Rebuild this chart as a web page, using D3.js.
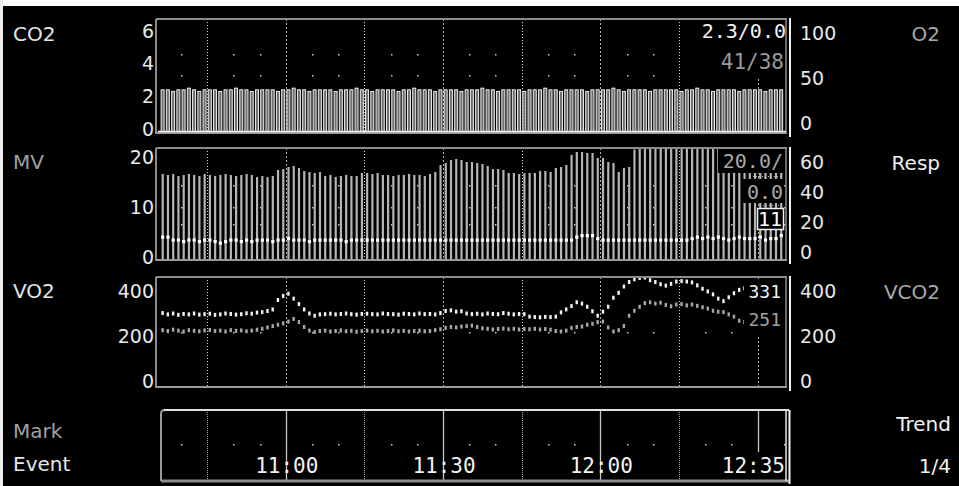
<!DOCTYPE html>
<html>
<head>
<meta charset="utf-8">
<script src="https://cdn.jsdelivr.net/npm/d3@7"></script>
<style>
  html, body { margin: 0; background: #000; }
  svg { display: block; }
</style>
</head>
<body>
<svg id="chart" width="959" height="486"></svg>
<script>
// one value per minute, 10:36 .. 12:35
const co2Values = [
  2.4,2.4,2.3,2.4,2.4,2.5,2.4,2.3,2.4,2.4, 2.4,2.3,2.4,2.4,2.5,2.4,2.4,2.3,2.4,2.4,
  2.4,2.4,2.3,2.4,2.4,2.5,2.4,2.4,2.3,2.4, 2.4,2.4,2.4,2.3,2.4,2.4,2.4,2.5,2.4,2.4,
  2.3,2.4,2.4,2.4,2.4,2.3,2.4,2.4,2.5,2.4, 2.4,2.4,2.3,2.4,2.4,2.4,2.4,2.3,2.4,2.4,
  2.4,2.5,2.4,2.4,2.3,2.4,2.4,2.4,2.4,2.3, 2.4,2.4,2.4,2.5,2.4,2.4,2.3,2.4,2.4,2.4,
  2.4,2.3,2.4,2.4,2.4,2.4,2.5,2.4,2.3,2.4, 2.4,2.4,2.4,2.3,2.4,2.4,2.4,2.4,2.4,2.3,
  2.4,2.4,2.5,2.4,2.4,2.3,2.4,2.4,2.4,2.4, 2.3,2.4,2.4,2.4,2.4,2.3,2.4,2.4,2.4
];
const mvValues = [
  16.6,16.4,16.6,16.2,16.4,16.6,16.4,16.2,16.6,16.4,16.2,16.4,16.6,16.4,16.2,16.4,16.6,16.4,
  16.0,16.2,16.0,16.2, 17.4,17.6, 18.0,18.2,17.8, 17.2,17.0,16.8,17.0,
  16.2,16.4,16.0,16.2,16.4,16.2,16.2, 16.8,16.8,16.6,16.8,
  16.4,16.4,16.2,16.4,16.4,16.6,16.4,16.4,16.2,16.6,
  17.0,18.4,18.8,19.4,19.6,19.4,19.0,19.0,18.8,18.6,18.2,17.6,17.6,17.4,
  16.8,16.8,16.6,16.8,16.8,16.8, 17.2,17.2,17.0, 17.8,18.0,18.4,
  20.4,21.0,21.0,20.8,20.8,19.8,19.8,19.0,18.8,17.0,17.8,18.0,21.5,
  22,22,22,22,22,22,22,22,22,22,22,22,22,22,22,22,22,22,22,22,22,22,22,22,22,22,22,22
];
const respValues = [
  10,10,8,8,7,8,8,7,8,8,7,6,7,8,8,7,8,7,8,8,
  8,7,8,8,9,8,8,8,7,8,8,8,8,8,8,7,8,8,8,8,
  8,8,8,8,8,8,8,8,8,8,8,8,8,8,8,8,8,8,8,8,
  8,8,8,8,8,8,8,8,8,8,8,8,8,8,8,8,8,8,8,10,
  11,11,11,9,8,8,8,8,8,8,8,8,8,8,8,8,8,8,8,8,
  8,9,10,9,10,9,10,9,8,9,10,9,9,9,10,8,9,9,11
];
const vo2Values = [
  302,296,300,294,298,296,300,295,297,299,294,296,300,298,295,297,301,299,304,306,
  311,318,360,378,388,366,342,318,300,290,296,
  297,299,296,298,300,297,295,298,299,297,296,300,298,297,295,299,298,296,300,297,298,296,
  302,311,314,308,310,300,
  297,299,296,300,298,297,302,299,296,298,297,
  286,284,283,285,284,286,
  305,318,333,350,344,330,310,290,308,330,370,392,420,440,452,
  458,460,448,440,430,424,432,442,444,442,438,425,410,398,385,366,355,372,390,405,
  412,410,408,405,402,400,398,396
];
const vco2Values = [
  226,222,228,224,220,226,223,221,225,227,222,224,220,226,223,225,221,224,228,232,
  238,244,250,256,264,276,262,240,224,218,222,
  224,220,222,225,221,223,219,222,224,221,223,220,222,225,221,223,220,222,224,221,222,226,
  230,236,240,238,242,244,246,240,234,
  232,229,231,233,230,232,229,231,
  230,232,229,231,228,
  222,220,224,
  236,240,242,250,254,262,264,238,220,226,244,290,312,
  330,346,350,344,348,338,332,340,342,336,340,334,328,322,312,308,306,296,286,268,
  262,260,258,256,254,252,251,251
];

const co2Ticks = [0, 2, 4, 6];
const o2Ticks = [0, 50, 100];
const mvTicks = [0, 10, 20];
const respTicks = [0, 20, 40, 60];
const vo2Ticks = [0, 200, 400];
const vco2Ticks = [0, 200, 400];
const timeLabels = ['11:00', '11:30', '12:00'];
const nowLabel = '12:35';

const svg = d3.select('#chart');
const MONO = '"DejaVu Sans Mono", monospace';
const SANS = '"DejaVu Sans", sans-serif';

const t0 = new Date(2020, 0, 1, 10, 36);
const t1 = new Date(2020, 0, 1, 12, 36);
const x = d3.scaleTime().domain([t0, t1]).range([160, 789]);
const times = co2Values.map((d, i) => new Date(+t0 + (i + 0.5) * 60000));

const panels = [
  { top: 19, bottom: 133 },
  { top: 148, bottom: 260 },
  { top: 277, bottom: 387 }
];

const co2Y = d3.scaleLinear().domain([0, 6]).range([129, 31]);
const o2Y = d3.scaleLinear().domain([0, 100]).range([123, 33]);
const mvY = d3.scaleLinear().domain([0, 20]).range([257, 157]);
const respY = d3.scaleLinear().domain([0, 60]).range([252, 162]);
const vo2Y = d3.scaleLinear().domain([0, 400]).range([381, 291]);

// screen border
svg.append('rect').attr('x', 0).attr('y', 0).attr('width', 959).attr('height', 6).attr('fill', '#fff');
svg.append('rect').attr('x', 0).attr('y', 0).attr('width', 3).attr('height', 486).attr('fill', '#eee');

const quarters = x.ticks(d3.timeMinute.every(15));
const fives = x.ticks(d3.timeMinute.every(5)).filter(d => d.getMinutes() % 15 !== 0);
const isHalf = d => d.getMinutes() % 30 === 0;

panels.forEach((p, k) => {
  svg.append('clipPath').attr('id', 'clip' + k)
    .append('rect').attr('x', 157).attr('y', p.top + 1)
    .attr('width', 629).attr('height', p.bottom - p.top - 1);
});

function panelGrid(p, k, dotRows) {
  const g = svg.append('g').attr('clip-path', `url(#clip${k})`);
  g.selectAll('line.v').data(quarters).join('line')
    .attr('x1', d => Math.round(x(d)) + 0.5).attr('x2', d => Math.round(x(d)) + 0.5)
    .attr('y1', p.top).attr('y2', p.bottom)
    .attr('stroke', d => isHalf(d) ? '#b0b0b0' : '#d8d8d8')
    .attr('stroke-width', 1)
    .attr('stroke-dasharray', d => isHalf(d) ? '2,2' : '1,2');
  dotRows.forEach(yy => {
    g.selectAll(null).data(fives).join('rect')
      .attr('x', d => Math.round(x(d))).attr('y', Math.round(yy))
      .attr('width', 1.5).attr('height', 1.5).attr('fill', '#ccc');
  });
  return g;
}

function frame(p) {
  const f = svg.append('g');
  f.append('line').attr('x1', 156).attr('x2', 787).attr('y1', p.top).attr('y2', p.top)
    .attr('stroke', '#8c8c8c').attr('stroke-width', 2);
  f.append('line').attr('x1', 156).attr('x2', 156).attr('y1', p.top).attr('y2', p.bottom + 1)
    .attr('stroke', '#8c8c8c').attr('stroke-width', 2);
  f.append('line').attr('x1', 156).attr('x2', 787).attr('y1', p.bottom).attr('y2', p.bottom)
    .attr('stroke', '#9a9a9a').attr('stroke-width', 2);
  f.append('line').attr('x1', 786).attr('x2', 786).attr('y1', p.top).attr('y2', p.bottom)
    .attr('stroke', '#8c8c8c').attr('stroke-width', 1.5);
  f.append('line').attr('x1', 790).attr('x2', 790).attr('y1', p.top - 1).attr('y2', p.bottom + 4)
    .attr('stroke', '#f2f2f2').attr('stroke-width', 2);
}

function axis(gen, scale, ticks, xPos, pad) {
  svg.append('g').attr('transform', `translate(${xPos},0)`)
    .call(gen(scale).tickValues(ticks).tickFormat(d3.format('d')).tickSize(0).tickPadding(pad))
    .call(g => g.select('.domain').remove())
    .selectAll('text')
    .attr('fill', '#e8e8e8')
    .attr('font-family', SANS)
    .attr('font-size', 19);
}

function label(txt, xx, yy, col, anchor) {
  svg.append('text').attr('x', xx).attr('y', yy).text(txt)
    .attr('fill', col).attr('font-family', SANS).attr('font-size', 20)
    .attr('text-anchor', anchor || 'start');
}

function readout(txt, xx, yy, col, size) {
  svg.append('text').attr('x', xx).attr('y', yy).text(txt)
    .attr('fill', col).attr('font-family', MONO).attr('font-size', size)
    .attr('text-anchor', 'end');
}

function blank(x0, y0, w, h) {
  svg.append('rect').attr('x', x0).attr('y', y0).attr('width', w).attr('height', h).attr('fill', '#000');
}

// ---- CO2 / O2 ----
const g1 = panelGrid(panels[0], 0, [o2Y(77), o2Y(53)]);
g1.selectAll('rect.co2').data(co2Values).join('rect')
  .attr('x', (d, i) => x(times[i]) - 1.5)
  .attr('y', d => co2Y(d))
  .attr('width', 3)
  .attr('height', d => co2Y(0) - co2Y(d) + 3)
  .attr('fill', '#707070')
  .attr('stroke', '#ececec')
  .attr('stroke-width', 1);
frame(panels[0]);
svg.append('line').attr('x1', 158).attr('x2', 786).attr('y1', 131.5).attr('y2', 131.5)
  .attr('stroke', '#f0f0f0').attr('stroke-width', 1.5);
blank(695, 20, 90, 58);
readout('2.3/0.0', 786, 38, '#f2f2f2', 20);
readout('41/38', 784, 69, '#9a9a9a', 21);
axis(d3.axisLeft, co2Y, co2Ticks, 156, 2);
axis(d3.axisRight, o2Y, o2Ticks, 792, 8);
label('CO2', 13, 41, '#e6e6e6');
label('O2', 940, 41, '#a8a8a8', 'end');

// ---- MV / Resp ----
const g2 = panelGrid(panels[1], 1, [mvY(14.5), mvY(10), mvY(6.6)]);
g2.selectAll('rect.mv').data(mvValues).join('rect')
  .attr('x', (d, i) => x(times[i]) - 1)
  .attr('y', d => mvY(d))
  .attr('width', 2.2)
  .attr('height', d => mvY(0) - mvY(d) + 3)
  .attr('fill', '#b4b4b4');
g2.selectAll('rect.resp').data(respValues).join('rect')
  .attr('x', (d, i) => x(times[i]) - 1.5)
  .attr('y', d => respY(d) - 1.5)
  .attr('width', 3.2)
  .attr('height', 3.2)
  .attr('fill', '#fff');
frame(panels[1]);
blank(718, 149, 66, 24);
readout('20.0/', 783, 168, '#a8a8a8', 20);
svg.append('line').attr('x1', 750).attr('x2', 782).attr('y1', 176.5).attr('y2', 176.5)
  .attr('stroke', '#bbb').attr('stroke-dasharray', '1,2');
blank(743, 179, 41, 24);
readout('0.0', 783, 199, '#a8a8a8', 20);
svg.append('line').attr('x1', 760).attr('x2', 782).attr('y1', 205.5).attr('y2', 205.5)
  .attr('stroke', '#bbb').attr('stroke-dasharray', '1,2');
svg.append('rect').attr('x', 757.5).attr('y', 208.5).attr('width', 26).attr('height', 21)
  .attr('fill', '#000').attr('stroke', '#f0f0f0').attr('stroke-width', 1.5);
readout('11', 782, 226, '#fff', 20);
axis(d3.axisLeft, mvY, mvTicks, 156, 2);
axis(d3.axisRight, respY, respTicks, 792, 8);
label('MV', 13, 169, '#a0a0a0');
label('Resp', 940, 170, '#f0f0f0', 'end');

// ---- VO2 / VCO2 ----
const g3 = panelGrid(panels[2], 2, [vo2Y(220)]);
g3.selectAll('rect.vco2').data(vco2Values).join('rect')
  .attr('x', (d, i) => x(times[i]) - 1.2)
  .attr('y', d => vo2Y(d) - 2)
  .attr('width', 2.4)
  .attr('height', 4)
  .attr('fill', '#a8a8a8');
g3.selectAll('rect.vo2').data(vo2Values).join('rect')
  .attr('x', (d, i) => x(times[i]) - 1.2)
  .attr('y', d => vo2Y(d) - 2)
  .attr('width', 2.4)
  .attr('height', 4)
  .attr('fill', '#f4f4f4');
frame(panels[2]);
blank(744, 280, 41, 56);
readout('331', 781, 298, '#f2f2f2', 18);
readout('251', 781, 326, '#a0a0a0', 18);
axis(d3.axisLeft, vo2Y, vo2Ticks, 156, 2);
axis(d3.axisRight, vo2Y, vco2Ticks, 792, 8);
label('VO2', 13, 298, '#e6e6e6');
label('VCO2', 940, 299, '#a8a8a8', 'end');

// ---- time bar ----
const tb = { top: 410, bottom: 481 };
const gt = svg.append('g');
gt.selectAll('line.q').data(quarters).join('line')
  .attr('x1', d => Math.round(x(d)) + 0.5).attr('x2', d => Math.round(x(d)) + 0.5)
  .attr('y1', tb.top)
  .attr('y2', d => d.getHours() === 12 && d.getMinutes() === 30 ? 452 : tb.bottom)
  .attr('stroke', d => isHalf(d) ? '#c8c8c8' : '#a0a0a0')
  .attr('stroke-width', d => isHalf(d) ? 1.3 : 1)
  .attr('stroke-dasharray', d => isHalf(d) ? null : '1,1');
gt.selectAll('rect.dot').data(fives).join('rect')
  .attr('x', d => Math.round(x(d))).attr('y', 444)
  .attr('width', 1.5).attr('height', 1.5).attr('fill', '#ccc');
gt.append('path')
  .attr('d', `M161,${tb.bottom} V${tb.top + 4} Q161,${tb.top} 165,${tb.top} H789`)
  .attr('fill', 'none').attr('stroke', '#9a9a9a').attr('stroke-width', 2);
gt.append('line').attr('x1', 164).attr('x2', 789).attr('y1', tb.top).attr('y2', tb.top)
  .attr('stroke', '#e0e0e0').attr('stroke-width', 2);
gt.append('line').attr('x1', 161).attr('x2', 790).attr('y1', tb.bottom).attr('y2', tb.bottom)
  .attr('stroke', '#8c8c8c').attr('stroke-width', 3);
gt.append('line').attr('x1', 786).attr('x2', 786).attr('y1', tb.top).attr('y2', tb.bottom)
  .attr('stroke', '#e8e8e8').attr('stroke-width', 1.5);
gt.append('line').attr('x1', 789.5).attr('x2', 789.5).attr('y1', tb.top).attr('y2', tb.bottom + 3)
  .attr('stroke', '#f2f2f2').attr('stroke-width', 2);

const labelTimes = timeLabels.map(s => {
  const [h, m] = s.split(':').map(Number);
  return new Date(2020, 0, 1, h, m);
});
gt.selectAll('text.tl').data(timeLabels).join('text')
  .attr('x', (d, i) => x(labelTimes[i]) + 1)
  .attr('y', 473)
  .attr('text-anchor', 'middle')
  .attr('fill', '#f2f2f2')
  .attr('font-family', MONO)
  .attr('font-size', 21)
  .text(d => d);
gt.append('text').attr('x', 785).attr('y', 473).attr('text-anchor', 'end')
  .attr('fill', '#f2f2f2').attr('font-family', MONO).attr('font-size', 21).text(nowLabel);

label('Mark', 13, 438, '#a0a0a0');
label('Event', 13, 471, '#e6e6e6');
label('Trend', 951, 431, '#f2f2f2', 'end');
label('1/4', 951, 473, '#f2f2f2', 'end');
</script>
</body>
</html>
